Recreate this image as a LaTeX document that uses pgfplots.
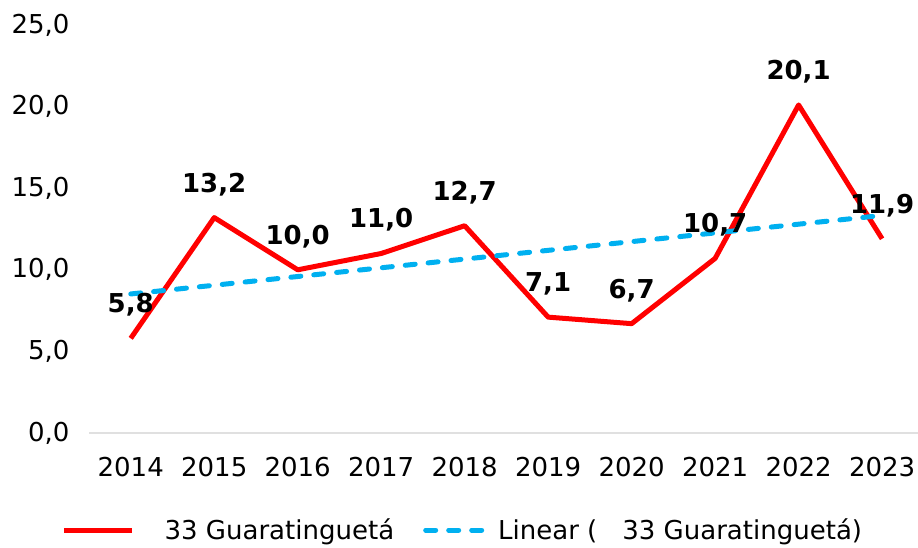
\documentclass[border=0pt]{standalone}
\usepackage{fontspec}
\setmainfont{DejaVu Sans}
\usepackage{pgfplots}
\pgfplotsset{compat=1.18}
\definecolor{cred}{RGB}{255,0,0}
\definecolor{cblue}{RGB}{0,176,240}
\begin{document}
\begin{tikzpicture}[x=1pt,y=1pt]
\useasboundingbox (0,0) rectangle (918,547);
\begin{axis}[
  at={(89pt,114pt)}, anchor=south west,
  scale only axis, width=829pt, height=408pt,
  xmin=-0.5, xmax=9.43, ymin=0, ymax=25,
  axis lines*=left,
  x axis line style={draw=black!12, line width=1.2pt},
  y axis line style={draw=none},
  major tick length=0pt,
  xtick={0,...,9},
  xticklabels={2014,2015,2016,2017,2018,2019,2020,2021,2022,2023},
  ytick={0,5,...,25},
  /pgf/number format/assume math mode=true,
  y tick label style={/pgf/number format/fixed, /pgf/number format/fixed zerofill,
     /pgf/number format/precision=1, /pgf/number format/use comma, xshift=-16pt},
  every tick label/.append style={font=\fontsize{26}{31}\selectfont, text=black},
  x tick label style={yshift=-21pt},
  clip=false,
  legend style={at={(0.451,-0.238)}, anchor=center, draw=none, fill=none,
    legend columns=2, font=\fontsize{26}{31}\selectfont,
    /tikz/every even column/.append style={column sep=27pt}},
  legend image code/.code={\draw[#1] (0pt,0pt) -- (68pt,0pt);},
]
\addplot[cred, line width=5pt, line join=round,
  nodes near coords, point meta=explicit symbolic,
  every node near coord/.append style={font=\bfseries\fontsize{26}{31}\selectfont, text=black, yshift=16pt}]
  coordinates {(0,5.8)[5,8] (1,13.2)[13,2] (2,10.0)[10,0] (3,11.0)[11,0] (4,12.7)[12,7]
               (5,7.1)[7,1] (6,6.7)[6,7] (7,10.7)[10,7] (8,20.1)[20,1] (9,11.9)[11,9]};
\addlegendentry{\hspace{28pt}33 Guaratinguetá}
\addplot[cblue, line width=5pt, line cap=round, dash pattern=on 10pt off 13pt]
  coordinates {(0,8.52) (9,13.33)};
\addlegendentry{Linear (\hspace{25pt}33 Guaratinguetá)}
\end{axis}
\end{tikzpicture}
\end{document}
